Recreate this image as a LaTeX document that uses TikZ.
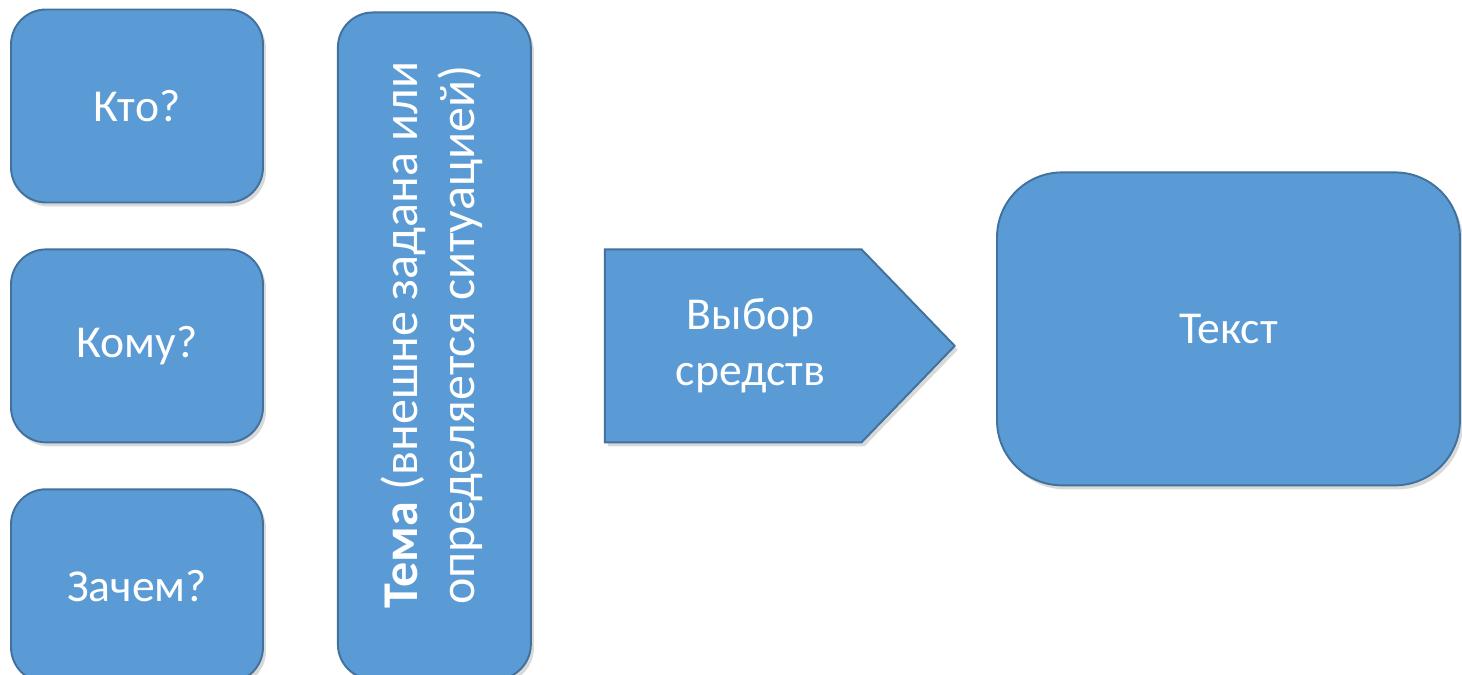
\documentclass[tikz,border=0pt]{standalone}
\usepackage{fontspec}
\setmainfont{Carlito}
\usetikzlibrary{shapes, shadows, positioning}
\definecolor{officeblue}{HTML}{5B9BD5}
\definecolor{officeline}{HTML}{41719C}

\begin{document}
\begin{tikzpicture}[node distance=0.9cm, x=0.02cm, y=0.02cm,
    bluefill/.style={fill=officeblue, draw=officeline, line width=1.1pt, text=white,
        font=\fontsize{26}{32}\selectfont, align=center, inner sep=0pt,
        drop shadow={opacity=0.3, shadow xshift=0.06cm, shadow yshift=-0.08cm}},
    qbox/.style={bluefill, rectangle, rounded corners=0.7cm, minimum width=5.04cm, minimum height=3.86cm}]
    \useasboundingbox (0,0) rectangle (1462,675);

    % Define nodes
    \node[qbox] (kto) at (137,569) {Кто?};
    \node[qbox, below=of kto] (komu) {Кому?};
    \node[qbox, below=of komu] (zachem) {Зачем?};

    \node[bluefill, rectangle, rounded corners=0.7cm, minimum width=3.86cm, minimum height=13.34cm,
        font=\fontsize{28.5}{32.5}\selectfont, right=1.46cm of komu] (tema)
        {\rotatebox{90}{\hspace*{0.44cm}\begin{tabular}{@{}c@{}}\textbf{Тема} (внешне задана или\\ определяется ситуацией)\end{tabular}}};

    \node[bluefill, signal, signal to=east, signal pointer angle=92, minimum width=7cm, minimum height=3.86cm,
        right=1.44cm of tema] (vybor) {\hspace*{0.7cm}\begin{tabular}{@{}c@{}}Выбор\\ средств\end{tabular}};

    \node[bluefill, rectangle, rounded corners=1.3cm, minimum width=9.26cm, minimum height=6.26cm,
        right=0.8cm of vybor, yshift=0.34cm] (tekst) {Текст};
\end{tikzpicture}
\end{document}
